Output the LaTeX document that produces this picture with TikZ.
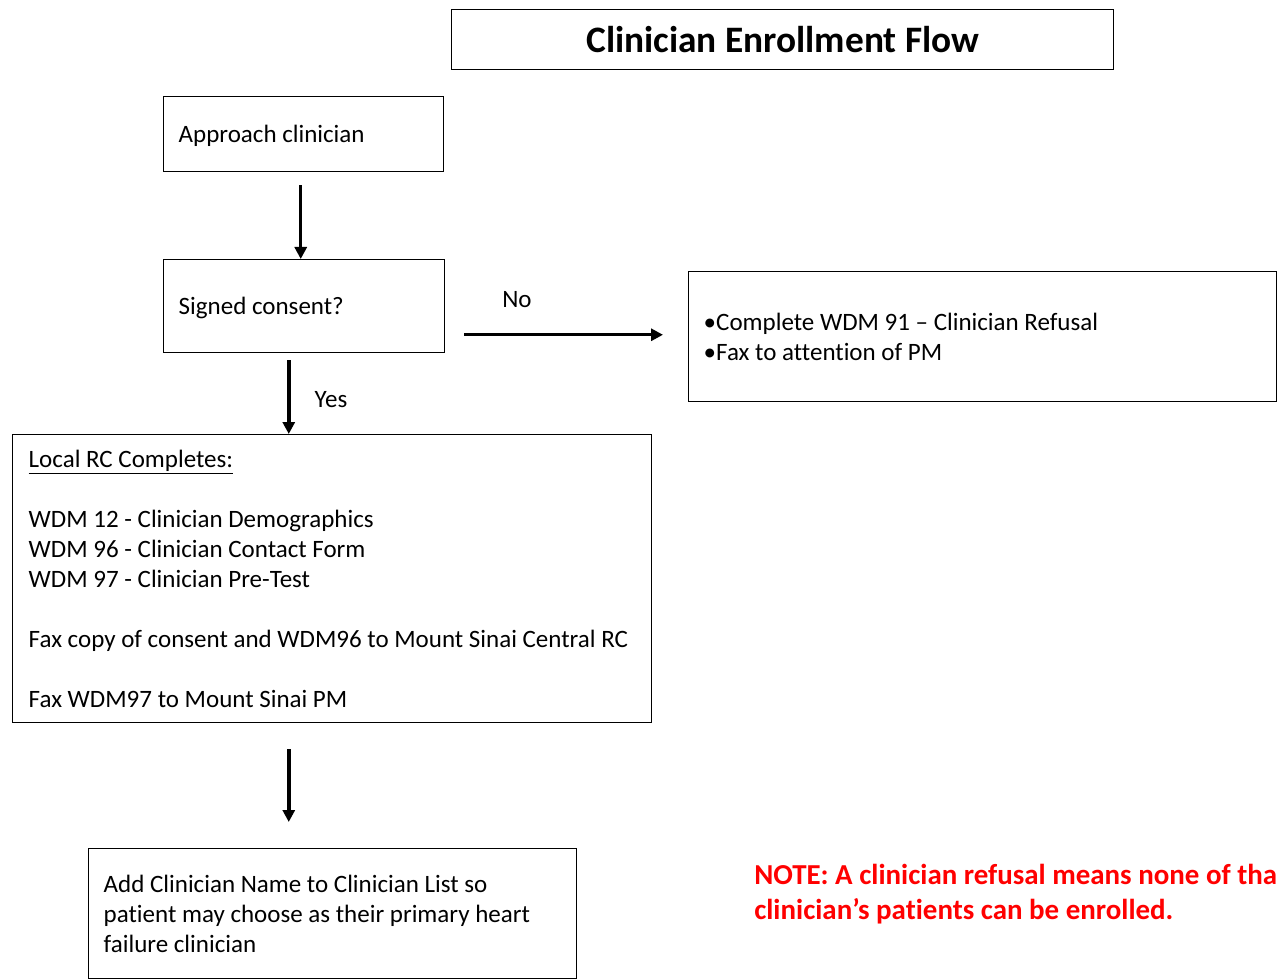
\documentclass[tikz,border=0pt]{standalone}
\usepackage{fontspec}
\setmainfont[Ligatures=NoCommon]{Carlito}
\usetikzlibrary{arrows.meta}
% body text: Calibri-metric face
\newcommand\bodytext{\fontsize{18.75}{22.5}\selectfont}
\begin{document}
\begin{tikzpicture}[x=0.75pt,y=-0.75pt,
  box/.style={draw, line width=1.1pt, anchor=north west, inner xsep=11.25pt, inner ysep=0pt,
    align=flush left, font=\bodytext},
  arr/.style={line width=2.6pt, -{Triangle[length=9pt,width=9pt]}},
  lbl/.style={font=\bodytext, inner sep=0pt}]
\clip (0,0) rectangle (1277,980);
% title
\node[box, minimum width=496.5pt, minimum height=45pt, align=center,
  font=\fontsize{28}{34}\selectfont\bfseries] (title) at (451,9) {Clinician Enrollment Flow};
% flow boxes
\node[box, minimum width=210pt, minimum height=56.25pt, text width=187.5pt, text depth=0pt] (approach) at (163,96)
  {Approach clinician};
\node[box, minimum width=210.75pt, minimum height=69.75pt, text width=188.25pt, text depth=0pt] (signed) at (163,259)
  {Signed consent?};
\node[box, minimum width=441pt, minimum height=97.5pt, text width=418.5pt] (refusal) at (688,271)
  {•Complete WDM 91 – Clinician Refusal\\•Fax to attention of PM};
\node[box, minimum width=479.25pt, minimum height=216pt, text width=455.25pt, inner xsep=12pt] (local) at (12,434)
  {\underline{Local RC Completes:}\\[22.5pt]
   WDM 12 - Clinician Demographics\\
   WDM 96 - Clinician Contact Form\\
   WDM 97 - Clinician Pre-Test\\[22.5pt]
   Fax copy of consent and WDM96 to Mount Sinai Central RC\\[22.5pt]
   Fax WDM97 to Mount Sinai PM};
\node[box, minimum width=366pt, minimum height=97.5pt, text width=343.5pt] (add) at (88,848)
  {Add Clinician Name to Clinician List so\\
   patient may choose as their primary heart\\
   failure clinician};
% connectors
\draw[arr, shorten <=9.75pt] ([xshift=-2.25pt]approach.south) -- ([xshift=-2.25pt]approach.south |- signed.north);
\draw[arr, shorten <=5.25pt] ([xshift=-11.6pt]signed.south) -- ([xshift=-11.6pt]signed.south |- local.north);
\draw[arr, shorten <=14.25pt, shorten >=18.75pt] ([yshift=-21.4pt]signed.east) -- ([yshift=-21.4pt]signed.east -| refusal.west);
\draw[arr, shorten <=19.5pt, shorten >=19.5pt] ([xshift=-32.6pt]local.south) -- ([xshift=-32.6pt]local.south |- add.north);
% labels
\node[lbl] (no) at (517,300) {No};
\node[lbl] (yes) at (331,400) {Yes};
% note
\node[anchor=west, align=flush left, inner sep=0pt, text=red,
  font=\fontsize{21.7}{26.5}\selectfont\bfseries] (note) at (754,894)
  {NOTE: A clinician refusal means none of tha\\clinician’s patients can be enrolled.};
\end{tikzpicture}
\end{document}
